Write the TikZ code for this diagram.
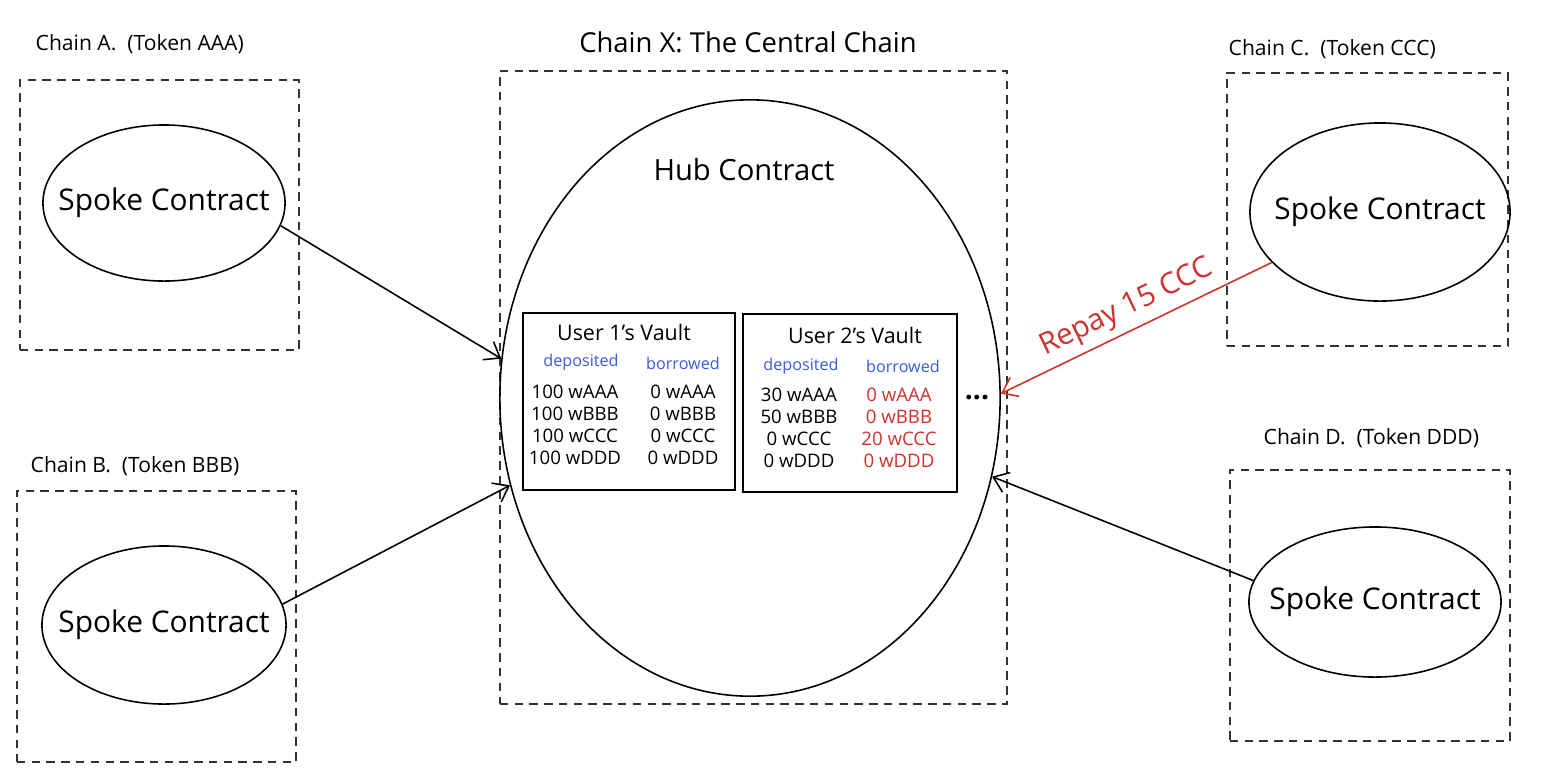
\documentclass[tikz,border=0pt]{standalone}
\usepackage{fontspec}
\setmainfont{Open Sans}
\usepackage{xcolor}
\usetikzlibrary{shapes.geometric,arrows.meta}
\definecolor{depblue}{HTML}{3B5BDB}
\definecolor{repred}{HTML}{D0312D}

\begin{document}
\begin{tikzpicture}[
x=0.01cm, y=-0.01cm,
chainbox/.style={draw=black!80, dash pattern=on 2.4pt off 1.8pt, line width=0.45pt, inner sep=0pt},
spoke/.style={draw, ellipse, line width=0.45pt, inner sep=0pt,
  label={[font=\fontsize{8.5}{10}\selectfont]center:Spoke Contract}},
vault/.style={draw, rectangle, line width=0.5pt, inner sep=0pt},
chainlabel/.style={anchor=west, inner sep=0pt, font=\fontsize{6}{7}\selectfont},
vaulttitle/.style={font=\fontsize{6.1}{7}\selectfont},
colhead/.style={text=depblue, font=\fontsize{4.6}{5.5}\selectfont},
amounts/.style={align=center, font=\fontsize{5.3}{6.3}\selectfont},
arrow/.style={-{Straight Barb[length=4pt,width=6pt]}, line width=0.45pt}
]

\useasboundingbox (0,0) rectangle (1544,781);

% chain boxes
\node[chainbox, minimum width=2.79cm, minimum height=2.70cm] (chA) at (159.5,215) {};
\node[chainbox, minimum width=2.79cm, minimum height=2.71cm] (chB) at (156.5,626.5) {};
\node[chainbox, minimum width=5.07cm, minimum height=6.33cm] (chX) at (753.5,387.5) {};
\node[chainbox, minimum width=2.81cm, minimum height=2.73cm] (chC) at (1367.5,209.5) {};
\node[chainbox, minimum width=2.80cm, minimum height=2.71cm] (chD) at (1370,605.5) {};

\node[chainlabel] (labA) at (35,44) {Chain A.~~(Token AAA)};
\node[chainlabel] (labB) at (30,466) {Chain B.~~(Token BBB)};
\node[chainlabel] (labC) at (1228,49) {Chain C.~~(Token CCC)};
\node[chainlabel] (labD) at (1263,438) {Chain D.~~(Token DDD)};
\node[font=\fontsize{7.8}{9}\selectfont] (labX) at (748,42) {Chain X: The Central Chain};

% spokes
\node[spoke, minimum width=2.42cm, minimum height=1.56cm] (spA) at (164,203) {};
\node[spoke, minimum width=2.44cm, minimum height=1.58cm] (spB) at (164,625) {};
\node[spoke, minimum width=2.60cm, minimum height=1.78cm] (spC) at (1380,212) {};
\node[spoke, minimum width=2.52cm, minimum height=1.50cm] (spD) at (1375,602) {};

% hub
\node[draw, ellipse, line width=0.45pt, minimum width=5.00cm, minimum height=5.96cm] (hub) at (750,398) {};
\node[font=\fontsize{8.3}{10}\selectfont] (hubname) at (744,170) {Hub Contract};

% vaults
\node[vault, minimum width=2.12cm, minimum height=1.77cm] (v1) at (629,401.5) {};
\node[vault, minimum width=2.14cm, minimum height=1.78cm] (v2) at (850,403) {};

\node[vaulttitle] (v1name) at (624,332) {User 1's Vault};
\node[colhead] (v1dep) at (581,362) {deposited};
\node[colhead] (v1bor) at (683,363) {borrowed};
\node[amounts] (v1left) at (575,425) {100 wAAA\\100 wBBB\\100 wCCC\\100 wDDD};
\node[amounts] (v1right) at (683,425) {0 wAAA\\0 wBBB\\0 wCCC\\0 wDDD};

\node[vaulttitle] (v2name) at (855,335) {User 2's Vault};
\node[colhead] (v2dep) at (801,366) {deposited};
\node[colhead] (v2bor) at (903,366) {borrowed};
\node[amounts] (v2left) at (799,428) {30 wAAA\\50 wBBB\\0 wCCC\\0 wDDD};
\node[amounts, text=repred] (v2right) at (899,428) {0 wAAA\\0 wBBB\\20 wCCC\\0 wDDD};

\node[font=\fontsize{8}{9}\selectfont\bfseries] (dots) at (977,398) {...};

% arrows
\draw[arrow] (spA.-11) -- (hub.171);
\draw[arrow] (spB.10) -- (hub.200);
\draw[arrow, draw=repred] (spC.205) -- node[pos=0.5, sloped, above, inner sep=2pt, text=repred, font=\fontsize{8.4}{10}\selectfont]{Repay 15 CCC} (hub.1);
\draw[arrow] (spD.170) -- (hub.-18);

\end{tikzpicture}
\end{document}
